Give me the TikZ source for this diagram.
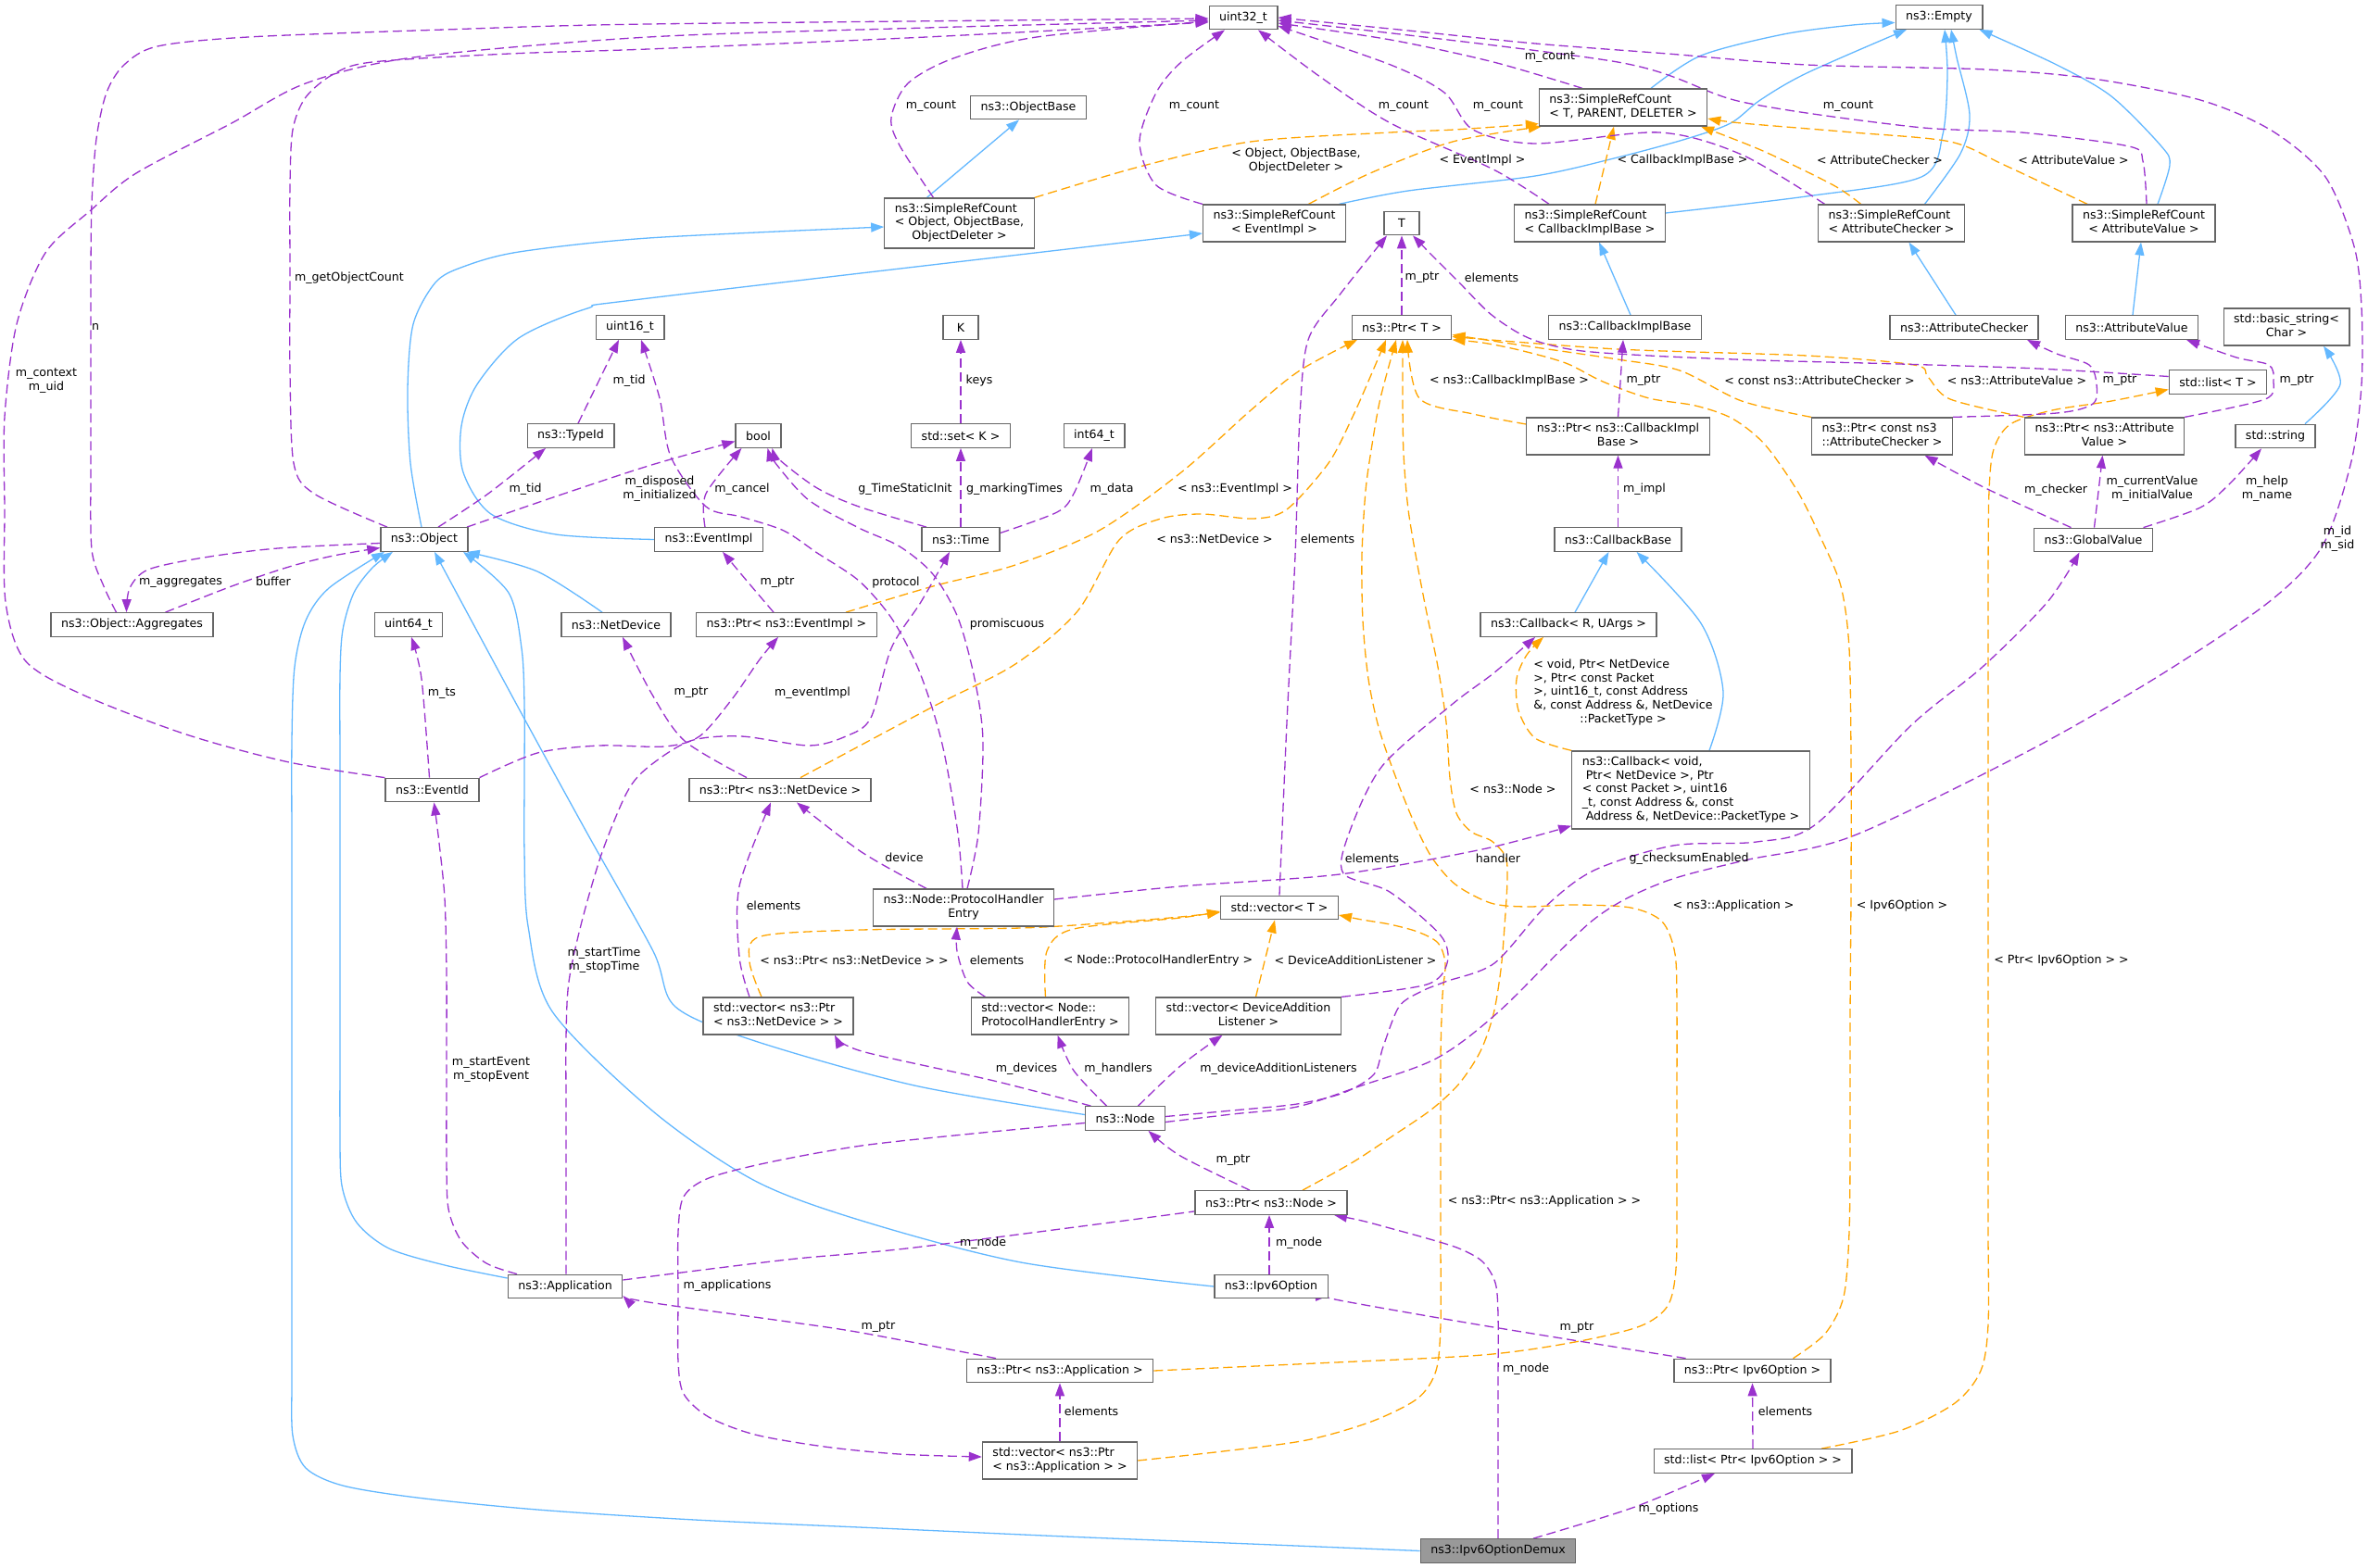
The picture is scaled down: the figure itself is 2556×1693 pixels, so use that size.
\documentclass[tikz,border=0pt]{standalone}
\usepackage{fontspec}
\setmainfont{DejaVu Sans}
\usepackage{tikz}
\usetikzlibrary{arrows.meta}
\usetikzlibrary{backgrounds}

\definecolor{edgepurple}{HTML}{9A32CD}
\definecolor{edgeblue}{HTML}{63B8FF}
\definecolor{edgeorange}{HTML}{FFA500}
\definecolor{boxgray}{HTML}{666666}
\definecolor{rootgray}{HTML}{999999}

\newcommand{\splitlabel}[2]{\begin{tabular}{@{}l@{}}#1\\\multicolumn{1}{@{}c@{}}{#2}\end{tabular}}

\tikzset{
	box/.style={draw=boxgray, line width=1.3pt, fill=white, inner xsep=11pt, inner ysep=2pt, minimum height=25.5pt, minimum width=38pt, align=center},
	box2/.style={box, minimum height=40pt},
	box3/.style={box, minimum height=54pt},
	rootbox/.style={box, fill=rootgray},
	usage/.style={draw=edgepurple, line width=1.3pt, dash pattern=on 10pt off 5pt, -{Triangle[length=14pt,width=10pt]}},
	inherit/.style={draw=edgeblue, line width=1.3pt, -{Triangle[length=14pt,width=10pt]}},
	templ/.style={draw=edgeorange, line width=1.3pt, dash pattern=on 10pt off 5pt, -{Triangle[length=14pt,width=10pt]}},
	elabel/.style={inner sep=0pt, align=center},
}

\begin{document}
\begin{tikzpicture}[x=1pt, y=-1pt, font=\fontsize{12.6}{14.7}\selectfont]
	\useasboundingbox (0,0) rectangle (2556,1693);

	% classes
	\node[box] (u32) at (1342,19) {uint32\_t};
	\node[box] (empty) at (2093,18.5) {ns3::Empty};
	\node[box] (objbase) at (1110,116) {ns3::ObjectBase};
	\node[box2] (srcTPD) at (1752,116) {\splitlabel{ns3::SimpleRefCount}{< T, PARENT, DELETER >}};
	\node[box3] (srcObj) at (1035.5,241) {\splitlabel{ns3::SimpleRefCount\\< Object, ObjectBase,}{ObjectDeleter >}};
	\node[box2] (srcEvt) at (1375.5,241) {\splitlabel{ns3::SimpleRefCount}{< EventImpl >}};
	\node[box] (tT) at (1513,241) {T};
	\node[box2] (srcCb) at (1716,241) {\splitlabel{ns3::SimpleRefCount}{< CallbackImplBase >}};
	\node[box2] (srcChk) at (2041.5,241) {\splitlabel{ns3::SimpleRefCount}{< AttributeChecker >}};
	\node[box2] (srcVal) at (2314,241) {\splitlabel{ns3::SimpleRefCount}{< AttributeValue >}};
	\node[box] (u16) at (680,353.5) {uint16\_t};
	\node[box] (kK) at (1037,353.5) {K};
	\node[box] (ptrT) at (1513,353.5) {ns3::Ptr< T >};
	\node[box] (cbImpl) at (1754,353.5) {ns3::CallbackImplBase};
	\node[box] (attrChk) at (2120,353.5) {ns3::AttributeChecker};
	\node[box] (attrVal) at (2301,353.5) {ns3::AttributeValue};
	\node[box2] (bstr) at (2468,353) {\splitlabel{std::basic\_string<}{Char >}};
	\node[box] (stdlistT) at (2394,412.5) {std::list< T >};
	\node[box] (typeid) at (616,470.5) {ns3::TypeId};
	\node[box] (bool) at (818.5,470.5) {bool};
	\node[box] (stdset) at (1037,470.5) {std::set< K >};
	\node[box] (i64) at (1181,470.5) {int64\_t};
	\node[box2] (ptrCb) at (1746.5,471) {\splitlabel{ns3::Ptr< ns3::CallbackImpl}{Base >}};
	\node[box2] (ptrChk) at (2031.5,471) {\splitlabel{ns3::Ptr< const ns3}{::AttributeChecker >}};
	\node[box2] (ptrVal) at (2271.5,471) {\splitlabel{ns3::Ptr< ns3::Attribute}{Value >}};
	\node[box] (stdstring) at (2456,471) {std::string};
	\node[box] (object) at (458,582.5) {ns3::Object};
	\node[box] (evtImpl) at (765,582.5) {ns3::EventImpl};
	\node[box] (time) at (1037,582.5) {ns3::Time};
	\node[box] (cbBase) at (1746.5,582.5) {ns3::CallbackBase};
	\node[box] (gval) at (2259.5,583) {ns3::GlobalValue};
	\node[box] (aggr) at (142.5,674.5) {ns3::Object::Aggregates};
	\node[box] (u64) at (441,674.5) {uint64\_t};
	\node[box] (netdev) at (665,674.5) {ns3::NetDevice};
	\node[box] (ptrEvt) at (849,674.5) {ns3::Ptr< ns3::EventImpl >};
	\node[box] (cbRU) at (1693,674.5) {ns3::Callback< R, UArgs >};
	\node[box] (eventid) at (466.5,853) {ns3::EventId};
	\node[box] (ptrNd) at (842,853) {ns3::Ptr< ns3::NetDevice >};
	\node[box, minimum height=84pt] (cbVoid) at (1825,853) {\splitlabel{ns3::Callback< void,\\\hspace*{4pt}Ptr< NetDevice >, Ptr\\< const Packet >, uint16\\\_t, const Address \&, const}{\hspace*{4pt}Address \&, NetDevice::PacketType >}};
	\node[box2] (phe) at (1040,980) {\splitlabel{ns3::Node::ProtocolHandler}{Entry}};
	\node[box] (vecT) at (1381,980) {std::vector< T >};
	\node[box2] (vecNd) at (840,1097) {\splitlabel{std::vector< ns3::Ptr}{< ns3::NetDevice > >}};
	\node[box2] (vecPhe) at (1133.5,1097) {\splitlabel{std::vector< Node::}{ProtocolHandlerEntry >}};
	\node[box2] (vecDal) at (1347.5,1097) {\splitlabel{std::vector< DeviceAddition}{Listener >}};
	\node[box] (nsNode) at (1214.5,1207.5) {ns3::Node};
	\node[box] (ptrNode) at (1372,1298.5) {ns3::Ptr< ns3::Node >};
	\node[box] (ipv6opt) at (1372,1389) {ns3::Ipv6Option};
	\node[box] (app) at (610,1389) {ns3::Application};
	\node[box] (ptrApp) at (1144,1480) {ns3::Ptr< ns3::Application >};
	\node[box2] (vecApp) at (1144,1577) {\splitlabel{std::vector< ns3::Ptr}{< ns3::Application > >}};
	\node[rootbox] (demux) at (1617,1674.5) {ns3::Ipv6OptionDemux};
	\node[box] (ptrOpt) at (1891.5,1480) {ns3::Ptr< Ipv6Option >};
	\node[box] (listOpt) at (1892,1577.5) {std::list< Ptr< Ipv6Option > >};

	\begin{scope}[on background layer]
	\fill[white] (0,0) rectangle (2556,1693);
	% base classes
	\draw[inherit] plot[smooth] coordinates {([xshift=30pt]srcTPD.north) (1836,60) (1925,37) (2000,27) ([yshift=-6pt]empty.west)};
	\draw[inherit] plot[smooth] coordinates {([xshift=70pt]srcEvt.north) (1520,206) (1657,190) (1746,170) (1820,150) (1868,133) (1900,108) (1950,79) ([xshift=-35pt]empty.south)};
	\draw[inherit] plot[smooth] coordinates {([yshift=11pt]srcCb.east) (1950,212) (2074,191) (2097,145) (2102,80) ([xshift=6pt]empty.south)};
	\draw[inherit] plot[smooth] coordinates {([xshift=36pt]srcChk.north) (2116,166) (2126,124) (2112,62) ([xshift=13pt]empty.south)};
	\draw[inherit] plot[smooth] coordinates {([xshift=15pt]srcVal.north) (2342,178) (2333,158) (2279,104) (2220,70) ([xshift=-4pt]empty.south east)};
	\draw[inherit] ([xshift=-35pt]srcObj.north) -- ([xshift=-10pt]objbase.south);
	\draw[inherit] plot[smooth] coordinates {([xshift=-3pt]object.north) (443,500) (440,420) (446,350) (470,305) (500,288) (560,272) (700,257) ([yshift=-4pt]srcObj.west)};
	\draw[inherit] plot[smooth] coordinates {(evtImpl.west) (600,577) (530,555) (500,510) (498,460) (515,415) (560,365) (634,333) (700,322) ([yshift=-11pt]srcEvt.west)};
	\draw[inherit] plot[smooth] coordinates {([xshift=-15pt]netdev.north) (580,617) ([xshift=-2pt]object.south east)};
	\draw[inherit] plot[smooth] coordinates {([yshift=4pt]nsNode.west) (987,1172) (815,1124) (729,1087) (705,1027) (634,900) (560,765) ([xshift=11pt]object.south)};
	\draw[inherit] plot[smooth] coordinates {(ipv6opt.west) (1102,1363) (930,1318) (815,1275) (705,1200) (596,1092) (570,1000) (566,920) (566,840) (566,760) (563,700) (549,640) ([xshift=42pt]object.south)};
	\draw[inherit] plot[smooth] coordinates {([yshift=9pt]app.west) (480,1366) (420,1348) (385,1320) (369,1280) (367,1220) (367,1130) (367,1030) (367,930) (367,830) (367,730) (370,680) (382,640) (402,613) ([xshift=-34pt]object.south)};
	\draw[inherit] plot[smooth] coordinates {(demux.west) (1350,1667) (1150,1659) (950,1650) (750,1641) (580,1630) (450,1617) (370,1604) (330,1585) (316,1550) (315,1490) (315,1400) (315,1280) (315,1160) (315,1040) (315,920) (315,800) (318,720) (330,670) (355,635) ([xshift=-43pt]object.south)};
	\draw[inherit] ([xshift=6pt]cbImpl.north) -- ([xshift=10pt]srcCb.south);
	\draw[inherit] ([xshift=-9pt]attrChk.north) -- ([xshift=19pt]srcChk.south);
	\draw[inherit] ([xshift=1pt]attrVal.north) -- ([xshift=-3pt]srcVal.south);
	\draw[inherit] ([xshift=7pt]cbRU.north) -- ([xshift=-10pt]cbBase.south);
	\draw[inherit] plot[smooth] coordinates {([xshift=20pt]cbVoid.north) (1860,747) (1836,673) ([xshift=20pt]cbBase.south)};
	\draw[inherit] plot[smooth] coordinates {([xshift=32pt]stdstring.north) (2526,415) ([xshift=40pt]bstr.south)};

	% template instances
	\draw[templ] plot[smooth] coordinates {(srcObj.north east) (1230,180) (1350,153) (1501,143) (1570,140) ([yshift=3pt]srcTPD.south west)};
	\draw[templ] plot[smooth] coordinates {([xshift=37pt]srcEvt.north) (1479,187) (1568,153) ([xshift=3pt]srcTPD.south west)};
	\draw[templ] ([xshift=6pt]srcCb.north) -- ([xshift=-10pt]srcTPD.south);
	\draw[templ] plot[smooth] coordinates {([xshift=-33pt]srcChk.north) (1979,200) (1903,163) ([xshift=84pt]srcTPD.south)};
	\draw[templ] plot[smooth] coordinates {([xshift=-61pt]srcVal.north) (2163,178) (2105,153) (2000,143) (1880,133) ([yshift=-12pt]srcTPD.east)};
	\draw[templ] plot[smooth] coordinates {(cbVoid.north west) (1657,797) (1639,767) (1637,733) (1648,707) ([xshift=-27pt]cbRU.south)};
	\draw[templ] plot[smooth] coordinates {([xshift=64pt]ptrEvt.north) (1007,633) (1096,610) (1186,573) (1275,510) (1350,443) (1403,400) ([xshift=-48pt]ptrT.south)};
	\draw[templ] plot[smooth] coordinates {([xshift=22pt]ptrNd.north) (1007,763) (1096,717) (1163,660) (1208,583) (1253,560) (1297,555) (1353,560) (1389,550) (1434,500) (1460,450) (1482,400) ([xshift=-17pt]ptrT.south)};
	\draw[templ] plot[smooth] coordinates {([yshift=13pt]ptrCb.west) (1590,447) (1532,430) ([xshift=6pt]ptrT.south)};
	\draw[templ] plot[smooth] coordinates {([xshift=34pt]ptrNode.north) (1460,1255) (1504,1226) (1545,1198) (1575,1170) (1598,1135) (1612,1095) (1620,1047) (1624,1000) (1627,950) (1625,925) (1610,908) (1588,898) (1572,878) (1565,840) (1561,780) (1552,720) (1541,667) (1530,610) (1520,550) (1515,490) (1514,430) ([xshift=1pt]ptrT.south)};
	\draw[templ] plot[smooth] coordinates {(ptrApp.east) (1420,1472) (1600,1463) (1700,1449) (1770,1432) (1800,1410) (1809,1370) (1810,1290) (1810,1190) (1810,1090) (1808,1030) (1794,995) (1760,980) (1700,977) (1647,979) (1609,975) (1571,955) (1545,925) (1525,885) (1505,835) (1488,785) (1477,733) (1471,670) (1470,600) (1474,530) (1481,480) (1490,430) ([xshift=-6pt]ptrT.south)};
	\draw[templ] plot[smooth] coordinates {([xshift=44pt]ptrOpt.north) (1970,1440) (1990,1400) (1996,1330) (1997,1230) (1997,1100) (1998,960) (1998,820) (1996,700) (1987,633) (1965,580) (1940,530) (1905,480) (1870,452) (1830,438) (1780,430) (1730,412) (1690,392) (1640,378) (1600,370) (ptrT.south east)};
	\draw[templ] plot[smooth] coordinates {(ptrChk.north west) (1880,433) (1813,400) (1746,388) (1657,375) ([yshift=-8pt]ptrT.east)};
	\draw[templ] plot[smooth] coordinates {([xshift=-87pt]ptrVal.north) (2105,431) (2081,407) (2066,394) (1950,384) (1746,377) ([yshift=-10pt]ptrT.east)};
	\draw[templ] plot[smooth] coordinates {([xshift=-18pt]vecNd.north) (809,1038) (821,1011) (930,1004) (1102,1002) (1200,996) (1274,990) ([yshift=-5pt]vecT.west)};
	\draw[templ] plot[smooth] coordinates {([xshift=-5pt]vecPhe.north) (1130,1027) (1159,1003) (1274,991) ([yshift=-4pt]vecT.west)};
	\draw[templ] ([xshift=8pt]vecDal.north) -- ([xshift=-5pt]vecT.south);
	\draw[templ] plot[smooth] coordinates {(vecApp.east) (1320,1567) (1410,1555) (1480,1535) (1530,1510) (1550,1480) (1555,1430) (1555,1340) (1555,1240) (1555,1140) (1557,1075) (1560,1040) (1552,1018) (1530,1006) (1500,998) (1470,993) ([yshift=-8pt]vecT.east)};
	\draw[templ] plot[smooth] coordinates {([xshift=74pt]listOpt.north) (2050,1545) (2110,1515) (2138,1480) (2146,1430) (2146,1330) (2146,1200) (2146,1050) (2146,900) (2146,750) (2146,620) (2147,530) (2152,485) (2170,458) (2215,443) (2279,433) ([yshift=-8pt]stdlistT.west)};

	% members
	\draw[usage] plot[smooth] coordinates {([xshift=-17pt]aggr.north) (112,633) (99,593) (98,500) (98,400) (98,300) (99,220) (104,150) (115,100) (134,70) (170,50) (268,40) (480,32) (700,26) ([yshift=-1pt]u32.west)};
	\draw[usage] plot[smooth] coordinates {(eventid.north west) (312,823) (201,793) (89,750) (27,713) (6,650) (5,550) (5,450) (18,350) (49,273) (98,227) (147,187) (250,133) (330,90) (446,62) (700,40) (1000,30) ([yshift=-3pt]u32.west)};
	\draw[usage] plot[smooth] coordinates {([xshift=-40pt]object.north) (339,533) (317,500) (313,400) (313,300) (313,200) (316,140) (330,105) (360,80) (402,67) (550,58) (700,53) (1000,40) ([yshift=-5pt]u32.west)};
	\draw[usage] plot[smooth] coordinates {([xshift=-28pt]srcObj.north) (971,157) (962,127) (980,90) (1029,63) (1119,40) ([yshift=-4pt]u32.west)};
	\draw[usage] plot[smooth] coordinates {(srcEvt.north west) (1248,200) (1230,153) (1248,100) (1275,67) ([xshift=-20pt]u32.south)};
	\draw[usage] plot[smooth] coordinates {([xshift=-44pt]srcCb.north) (1612,183) (1501,133) (1425,83) ([xshift=16pt]u32.south)};
	\draw[usage] plot[smooth] coordinates {([xshift=-44pt]srcTPD.north) (1612,67) (1501,43) ([yshift=-6pt]u32.east)};
	\draw[usage] plot[smooth] coordinates {([xshift=-72pt]srcChk.north) (1880,167) (1791,143) (1657,155) (1590,140) (1559,100) (1501,70) ([yshift=-9pt]u32.east)};
	\draw[usage] plot[smooth] coordinates {([xshift=3pt]srcVal.north) (2313,174) (2298,158) (2182,143) (2066,137) (1880,110) (1746,67) ([yshift=-3pt]u32.east)};
	\draw[usage] plot[smooth] coordinates {([yshift=-4pt]nsNode.east) (1330,1203) (1400,1195) (1467,1173) (1550,1143) (1617,1093) (1720,993) (1794,953) (1883,929) (1999,903) (2191,810) (2330,730) (2449,650) (2507,589) (2538,498) (2549,415) (2549,332) (2541,266) (2510,191) (2452,141) (2375,108) (2259,85) (2143,75) (1950,70) (1800,58) (1657,47) (1520,33) (u32.east)};
	\draw[usage] plot[smooth] coordinates {([xshift=15pt]object.north) (527,533) ([xshift=-27pt]typeid.south)};
	\draw[usage] ([xshift=8pt]typeid.north) -- ([xshift=-12pt]u16.south);
	\draw[usage] plot[smooth] coordinates {([xshift=-1pt]phe.north) (1034,900) (1020,817) (1007,767) (989,717) (962,667) (927,627) (882,597) (846,573) (800,558) (762,547) (724,493) (712,430) ([xshift=12pt]u16.south)};
	\draw[usage] plot[smooth] coordinates {([xshift=4pt]phe.north) (1056,900) (1061,800) (1052,733) (1034,667) (1007,620) (971,590) (927,570) (873,540) (837,500) ([xshift=10pt]bool.south)};
	\draw[usage] plot[smooth] coordinates {([xshift=46pt]object.north) (600,536) (700,503) ([yshift=-6pt]bool.west)};
	\draw[usage] plot[smooth] coordinates {([xshift=-4pt]evtImpl.north) (762,533) ([xshift=-18pt]bool.south)};
	\draw[usage] plot[smooth] coordinates {([xshift=-37pt]time.north) (927,547) (882,527) (842,497) ([xshift=15pt]bool.south)};
	\draw[usage] (time.north) -- (stdset.south);
	\draw[usage] plot[smooth] coordinates {([yshift=7pt]time.east) (1141,553) (1159,533) ([xshift=-2pt]i64.south)};
	\draw[usage] (stdset.north) -- (kK.south);
	\draw[usage] plot[smooth] coordinates {([xshift=-14pt]ptrEvt.north) (806,627) ([xshift=15pt]evtImpl.south)};
	\draw[usage] plot[smooth] coordinates {(eventid.north east) (580,813) (647,805) (717,806) (755,795) (790,755) (820,712) ([xshift=-9pt]ptrEvt.south)};
	\draw[usage] plot[smooth] coordinates {([xshift=-3pt]eventid.north) (455,733) ([xshift=3pt]u64.south)};
	\draw[usage] plot[smooth] coordinates {([xshift=-52pt]app.north) (525,1364) (498,1340) (484,1305) (482,1250) (482,1150) (482,1050) (480,970) (474,910) ([xshift=2pt]eventid.south)};
	\draw[usage] plot[smooth] coordinates {([xshift=1pt]app.north) (611,1290) (611,1200) (611,1120) (614,1060) (628,995) (650,920) (677,855) (700,828) (745,800) (800,795) (873,805) (913,795) (940,775) (962,700) (994,650) ([xshift=-12pt]time.south)};
	\draw[usage] plot[smooth] coordinates {([xshift=-36pt]ptrNd.north) (739,800) (704,750) ([xshift=7pt]netdev.south)};
	\draw[usage] (ptrT.north) -- (tT.south);
	\draw[usage] plot[smooth] coordinates {(vecT.north) (1389,780) (1398,600) (1403,450) (1412,367) (1447,317) ([xshift=-16pt]tT.south)};
	\draw[usage] plot[smooth] coordinates {([yshift=6pt]stdlistT.west) (2200,398) (2050,393) (1900,389) (1780,384) (1700,378) (1650,365) (1610,340) (1575,305) (1545,275) ([xshift=12pt]tT.south)};
	\draw[usage] (ptrCb.north) -- ([xshift=-2pt]cbImpl.south);
	\draw[usage] (cbBase.north) -- (ptrCb.south);
	\draw[usage] plot[smooth] coordinates {([yshift=9pt]phe.east) (1274,957) (1446,944) (1600,917) ([yshift=4pt]cbVoid.south west)};
	\draw[usage] plot[smooth] coordinates {([xshift=-40pt]phe.north) (930,920) ([xshift=18pt]ptrNd.south)};
	\draw[usage] plot[smooth] coordinates {([xshift=-31pt]vecNd.north) (798,1033) (798,957) ([xshift=-10pt]ptrNd.south)};
	\draw[usage] plot[smooth] coordinates {([xshift=-70pt]vecPhe.north) (1044,1060) (1033,1027) ([xshift=-7pt]phe.south)};
	\draw[usage] plot[smooth] coordinates {(vecDal.north east) (1540,1063) (1562,1040) (1555,1010) (1500,963) (1450,943) (1456,900) (1492,827) (1568,760) (1612,727) ([xshift=-36pt]cbRU.south)};
	\draw[usage] plot[smooth] coordinates {([yshift=2pt]nsNode.east) (1330,1199) (1400,1192) (1450,1180) (1483,1160) (1493,1130) (1510,1087) (1533,1071) (1560,1060) (1613,1040) (1667,980) (1720,940) (1806,913) (1896,909) (1960,890) (2063,783) (2140,720) (2210,650) ([xshift=-15pt]gval.south)};
	\draw[usage] plot[smooth] coordinates {([xshift=-37pt]nsNode.north) (1073,1167) (930,1135) ([xshift=61pt]vecNd.south)};
	\draw[usage] plot[smooth] coordinates {([xshift=-20pt]nsNode.north) (1159,1156) ([xshift=8pt]vecPhe.south)};
	\draw[usage] plot[smooth] coordinates {([xshift=14pt]nsNode.north) (1274,1151) ([xshift=-28pt]vecDal.south)};
	\draw[usage] plot[smooth] coordinates {([yshift=-5pt]nsNode.west) (1050,1224) (930,1237) (830,1255) (765,1272) (738,1292) (732,1330) (732,1400) (732,1470) (738,1505) (765,1530) (815,1549) (890,1562) (970,1570) ([yshift=4pt]vecApp.west)};
	\draw[usage] plot[smooth] coordinates {([xshift=-23pt]ptrNode.north) (1274,1248) ([xshift=25pt]nsNode.south)};
	\draw[usage] plot[smooth] coordinates {([yshift=7pt]app.east) (850,1360) (987,1347) (1274,1310) ([yshift=-8pt]ptrNode.west)};
	\draw[usage] ([xshift=-2pt]ipv6opt.north) -- ([xshift=-2pt]ptrNode.south);
	\draw[usage] plot[smooth] coordinates {([xshift=-69pt]ptrApp.north) (930,1439) (850,1427) (700,1406) ([yshift=-10pt]app.east)};
	\draw[usage] (vecApp.north) -- (ptrApp.south);
	\draw[usage] plot[smooth] coordinates {([xshift=-72pt]ptrOpt.north) (1600,1431) (1446,1404) ([yshift=-10pt]ipv6opt.east)};
	\draw[usage] (listOpt.north) -- (ptrOpt.south);
	\draw[usage] plot[smooth] coordinates {([xshift=38pt]demux.north) (1762,1628) ([xshift=-41pt]listOpt.south)};
	\draw[usage] plot[smooth] coordinates {(demux.north) (1617,1580) (1617,1500) (1617,1420) (1614,1385) (1600,1362) (1575,1348) (1540,1337) (1500,1326) (1470,1318) ([xshift=68pt]ptrNode.south)};
	\draw[usage] plot[smooth] coordinates {(ptrChk.north east) (2220,446) (2259,436) (2263,415) (2255,394) (2220,382) ([xshift=68pt]attrChk.south)};
	\draw[usage] plot[smooth] coordinates {(ptrVal.north east) (2445,431) (2454,411) (2449,394) (2414,386) ([xshift=59pt]attrVal.south)};
	\draw[usage] plot[smooth] coordinates {([xshift=-24pt]gval.north) (2143,527) ([xshift=46pt]ptrChk.south)};
	\draw[usage] ([xshift=1pt]gval.north) -- ([xshift=-2pt]ptrVal.south);
	\draw[usage] plot[smooth] coordinates {([xshift=54pt]gval.north) (2375,548) (2406,523) ([xshift=-15pt]stdstring.south)};
	\draw[usage] plot[smooth] coordinates {([yshift=-4pt]object.west) (300,592) (220,602) (160,615) (140,635) ([xshift=-6pt]aggr.north)};
	\draw[usage] plot[smooth] coordinates {([xshift=36pt]aggr.north) (250,633) (312,612) (360,600) ([yshift=-9pt]object.west)};
	\end{scope}

	% edge labels
	\node[elabel] (lN) at (103,353) {n};
	\node[elabel] (lCtx) at (50,411) {m\_context\\m\_uid};
	\node[elabel] (lObjCount) at (377,300) {m\_getObjectCount};
	\node[elabel] (lCntObj) at (1005,115) {m\_count};
	\node[elabel] (lCntEvt) at (1289,115) {m\_count};
	\node[elabel] (lCntCb) at (1515,115) {m\_count};
	\node[elabel] (lCntTPD) at (1673,62) {m\_count};
	\node[elabel] (lCntChk) at (1617,115) {m\_count};
	\node[elabel] (lCntVal) at (1995,115) {m\_count};
	\node[elabel] (lId) at (2523,582) {m\_id\\m\_sid};
	\node[elabel] (lTidObj) at (567,528) {m\_tid};
	\node[elabel] (lTidType) at (679,411) {m\_tid};
	\node[elabel] (lProto) at (967,629) {protocol};
	\node[elabel] (lPromisc) at (1087,674) {promiscuous};
	\node[elabel] (lDisposed) at (712,528) {m\_disposed\\m\_initialized};
	\node[elabel] (lCancel) at (801,528) {m\_cancel};
	\node[elabel] (lStatic) at (977,528) {g\_TimeStaticInit};
	\node[elabel] (lMarking) at (1095,528) {g\_markingTimes};
	\node[elabel] (lData) at (1200,528) {m\_data};
	\node[elabel] (lKeys) at (1057,411) {keys};
	\node[elabel] (lPtrEvt) at (839,629) {m\_ptr};
	\node[elabel] (lEvtImpl) at (877,748) {m\_eventImpl};
	\node[elabel] (lTs) at (477,749) {m\_ts};
	\node[elabel] (lStartEv) at (530,1155) {m\_startEvent\\m\_stopEvent};
	\node[elabel] (lStartTm) at (652,1037) {m\_startTime\\m\_stopTime};
	\node[elabel] (lPtrNd) at (746,748) {m\_ptr};
	\node[elabel] (lTEvt) at (1333,528) {< ns3::EventImpl >};
	\node[elabel] (lTNd) at (1311,582) {< ns3::NetDevice >};
	\node[elabel] (lTCb) at (1629,411) {< ns3::CallbackImplBase >};
	\node[elabel] (lTNode) at (1633,852) {< ns3::Node >};
	\node[elabel] (lTApp) at (1871,978) {< ns3::Application >};
	\node[elabel] (lTOpt) at (2053,978) {< Ipv6Option >};
	\node[elabel] (lTChk) at (1964,411) {< const ns3::AttributeChecker >};
	\node[elabel] (lTVal) at (2177,411) {< ns3::AttributeValue >};
	\node[elabel] (lPtrT) at (1535,300) {m\_ptr};
	\node[elabel] (lElVec) at (1433,582) {elements};
	\node[elabel] (lElList) at (1610,300) {elements};
	\node[elabel] (lPtrCb) at (1774,411) {m\_ptr};
	\node[elabel] (lImpl) at (1775,528) {m\_impl};
	\node[elabel] (lTVoid) at (1752,748) {\splitlabel{< void, Ptr< NetDevice\\>, Ptr< const Packet\\>, uint16\_t, const Address\\\&, const Address \&, NetDevice}{::PacketType >}};
	\node[elabel] (lHandler) at (1617,927) {handler};
	\node[elabel] (lDevice) at (976,926) {device};
	\node[elabel] (lElNd) at (835,978) {elements};
	\node[elabel] (lTVecNd) at (922,1037) {< ns3::Ptr< ns3::NetDevice > >};
	\node[elabel] (lElPhe) at (1076,1037) {elements};
	\node[elabel] (lTVecPhe) at (1250,1037) {< Node::ProtocolHandlerEntry >};
	\node[elabel] (lTVecDal) at (1463,1037) {< DeviceAdditionListener >};
	\node[elabel] (lTVecApp) at (1667,1297) {< ns3::Ptr< ns3::Application > >};
	\node[elabel] (lElDal) at (1481,927) {elements};
	\node[elabel] (lChecksum) at (1823,927) {g\_checksumEnabled};
	\node[elabel] (lDevices) at (1108,1154) {m\_devices};
	\node[elabel] (lHandlers) at (1207,1154) {m\_handlers};
	\node[elabel] (lListeners) at (1380,1154) {m\_deviceAdditionListeners};
	\node[elabel] (lApps) at (785,1388) {m\_applications};
	\node[elabel] (lPtrNode) at (1331,1253) {m\_ptr};
	\node[elabel] (lNodeApp) at (1061,1342) {m\_node};
	\node[elabel] (lNodeOpt) at (1402,1342) {m\_node};
	\node[elabel] (lPtrApp) at (948,1433) {m\_ptr};
	\node[elabel] (lElApp) at (1178,1524) {elements};
	\node[elabel] (lPtrOpt) at (1702,1434) {m\_ptr};
	\node[elabel] (lElOpt) at (1927,1524) {elements};
	\node[elabel] (lTListOpt) at (2225,1037) {< Ptr< Ipv6Option > >};
	\node[elabel] (lOptions) at (1801,1629) {m\_options};
	\node[elabel] (lNodeDemux) at (1647,1478) {m\_node};
	\node[elabel] (lPtrChk) at (2288,411) {m\_ptr};
	\node[elabel] (lPtrVal) at (2479,411) {m\_ptr};
	\node[elabel] (lChecker) at (2219,529) {m\_checker};
	\node[elabel] (lCurrent) at (2323,528) {m\_currentValue\\m\_initialValue};
	\node[elabel] (lHelp) at (2447,528) {m\_help\\m\_name};
	\node[elabel] (lTObj) at (1399,174) {\splitlabel{< Object, ObjectBase,}{ObjectDeleter >}};
	\node[elabel] (lTEvtImpl) at (1600,173) {< EventImpl >};
	\node[elabel] (lTCbImpl) at (1816,173) {< CallbackImplBase >};
	\node[elabel] (lTAttrChk) at (2029,173) {< AttributeChecker >};
	\node[elabel] (lTAttrVal) at (2238,173) {< AttributeValue >};
	\node[elabel] (lAggr) at (195,629) {m\_aggregates};
	\node[elabel] (lBuffer) at (295,628) {buffer};
\end{tikzpicture}
\end{document}
